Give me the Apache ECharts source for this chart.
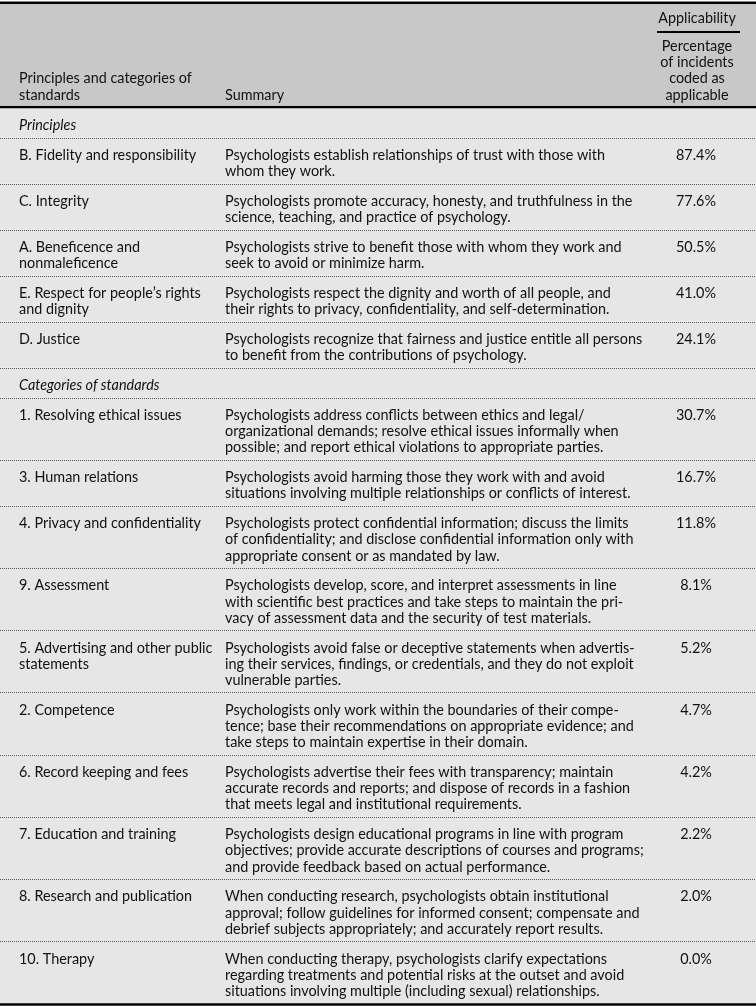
<!DOCTYPE html>
<html>
<head>
<meta charset="utf-8">
<script src="https://cdn.jsdelivr.net/npm/echarts@6/dist/echarts.min.js"></script>
<style>
html,body{margin:0;padding:0;background:#ffffff;}
#chart{width:756px;height:1006px;}
</style>
</head>
<body>
<div id="chart"></div>
<script>
// ---------- DATA ----------
const headerCol1 = 'Principles and categories of\nstandards';
const headerCol2 = 'Summary';
const headerGroup = 'Applicability';
const headerCol3 = 'Percentage\nof incidents\ncoded as\napplicable';

const sectionTitles = ['Principles', 'Categories of standards'];

const principleLabels = [
  'B. Fidelity and responsibility',
  'C. Integrity',
  'A. Beneficence and\nnonmaleficence',
  'E. Respect for people\u2019s rights\nand dignity',
  'D. Justice'
];
const principleSummaries = [
  'Psychologists establish relationships of trust with those with\nwhom they work.',
  'Psychologists promote accuracy, honesty, and truthfulness in the\nscience, teaching, and practice of psychology.',
  'Psychologists strive to benefit those with whom they work and\nseek to avoid or minimize harm.',
  'Psychologists respect the dignity and worth of all people, and\ntheir rights to privacy, confidentiality, and self-determination.',
  'Psychologists recognize that fairness and justice entitle all persons\nto benefit from the contributions of psychology.'
];
const principlePct = [87.4, 77.6, 50.5, 41.0, 24.1];

const standardLabels = [
  '1. Resolving ethical issues',
  '3. Human relations',
  '4. Privacy and confidentiality',
  '9. Assessment',
  '5. Advertising and other public\nstatements',
  '2. Competence',
  '6. Record keeping and fees',
  '7. Education and training',
  '8. Research and publication',
  '10. Therapy'
];
const standardSummaries = [
  'Psychologists address conflicts between ethics and legal/\norganizational demands; resolve ethical issues informally when\npossible; and report ethical violations to appropriate parties.',
  'Psychologists avoid harming those they work with and avoid\nsituations involving multiple relationships or conflicts of interest.',
  'Psychologists protect confidential information; discuss the limits\nof confidentiality; and disclose confidential information only with\nappropriate consent or as mandated by law.',
  'Psychologists develop, score, and interpret assessments in line\nwith scientific best practices and take steps to maintain the pri-\nvacy of assessment data and the security of test materials.',
  'Psychologists avoid false or deceptive statements when advertis-\ning their services, findings, or credentials, and they do not exploit\nvulnerable parties.',
  'Psychologists only work within the boundaries of their compe-\ntence; base their recommendations on appropriate evidence; and\ntake steps to maintain expertise in their domain.',
  'Psychologists advertise their fees with transparency; maintain\naccurate records and reports; and dispose of records in a fashion\nthat meets legal and institutional requirements.',
  'Psychologists design educational programs in line with program\nobjectives; provide accurate descriptions of courses and programs;\nand provide feedback based on actual performance.',
  'When conducting research, psychologists obtain institutional\napproval; follow guidelines for informed consent; compensate and\ndebrief subjects appropriately; and accurately report results.',
  'When conducting therapy, psychologists clarify expectations\nregarding treatments and potential risks at the outset and avoid\nsituations involving multiple (including sexual) relationships.'
];
const standardPct = [30.7, 16.7, 11.8, 8.1, 5.2, 4.7, 4.2, 2.2, 2.0, 0.0];

// ---------- LAYOUT ----------
const W = 756, H = 1006;
const FONT = 'Lato, "Noto Sans", sans-serif';
const FS = 14.4;
const LINE = 16.2;
const PAD = 6.8;
const TEXT_DY = 2.8;
const TOP = 4;
const HEADER_BOTTOM = 108;
const COL1 = 19, COL2 = 225, COL3C = 696;
const TEXT = '#111111';

function nLines(s){ return s.split('\n').length; }

const rows = [];
rows.push({kind:'header'});
const sections = [
  {title: sectionTitles[0], labels: principleLabels, sums: principleSummaries, pct: principlePct},
  {title: sectionTitles[1], labels: standardLabels, sums: standardSummaries, pct: standardPct}
];
sections.forEach(sec => {
  rows.push({kind:'section', text: sec.title});
  sec.labels.forEach((lab, i) => {
    rows.push({kind:'item', label: lab, summary: sec.sums[i], pct: sec.pct[i]});
  });
});

// vertical extents derived from line counts
const data = [];
let y = HEADER_BOTTOM;
rows.forEach((r) => {
  if (r.kind === 'header') { data.push([0, TOP, W, HEADER_BOTTOM]); return; }
  const n = r.kind === 'section' ? 1 : Math.max(nLines(r.label), nLines(r.summary), 1);
  const h = n * LINE + 2 * PAD;
  data.push([0, y, W, y + h]);
  y += h;
});
const lastIndex = rows.length - 1;

function txt(text, x, yy, opts) {
  opts = opts || {};
  return {
    type: 'text',
    z2: 10,
    style: {
      text: text, x: x, y: yy,
      fill: TEXT,
      font: (opts.italic ? 'italic ' : '') + FS + 'px ' + FONT,
      lineHeight: LINE,
      align: opts.align || 'left', textAlign: opts.align || 'left',
      verticalAlign: 'top', textVerticalAlign: 'top'
    }
  };
}

function rule(x0, x1, yy, color, width, dash) {
  const st = {stroke: color, lineWidth: width};
  if (dash) st.lineDash = dash;
  return {type:'line', z2: 20, shape:{x1:x0, y1:yy, x2:x1, y2:yy}, style: st};
}

function renderItem(params, api) {
  const r = rows[params.dataIndex];
  const p0 = api.coord([api.value(0), api.value(1)]);
  const p1 = api.coord([api.value(2), api.value(3)]);
  const x0 = p0[0], y0 = p0[1], x1 = p1[0], y1 = p1[1];
  const c1 = api.coord([COL1, 0])[0], c2 = api.coord([COL2, 0])[0], c3 = api.coord([COL3C, 0])[0];
  const children = [];
  if (r.kind === 'header') {
    children.push({type:'rect', z2: 0, shape:{x:x0, y:y0, width:x1-x0, height:y1-y0}, style:{fill:'#c8c8c8'}});
    children.push(rule(x0, x1, y0 - 1.2, '#000', 2.5));
    children.push(rule(x0, x1, y1 - 0.8, '#000', 2.3));
    children.push(txt(headerGroup, c3 + 1, y0 + 6, {align:'center'}));
    children.push(rule(c3 - 39, c3 + 44, y0 + 28, '#000', 2));
    const n3 = nLines(headerCol3);
    children.push(txt(headerCol3, c3 + 1, y1 - 5 - n3 * LINE, {align:'center'}));
    children.push(txt(headerCol1, c1, y1 - 5 - nLines(headerCol1) * LINE));
    children.push(txt(headerCol2, c2, y1 - 5 - LINE));
  } else {
    children.push({type:'rect', z2: 0, shape:{x:x0, y:y0, width:x1-x0, height:y1-y0}, style:{fill:'#e6e6e6'}});
    const ty = y0 + PAD + TEXT_DY;
    if (r.kind === 'section') {
      children.push(txt(r.text, c1, ty, {italic:true}));
    } else {
      children.push(txt(r.label, c1, ty));
      children.push(txt(r.summary, c2, ty));
      children.push(txt(r.pct.toFixed(1) + '%', c3, ty, {align:'center'}));
    }
    if (params.dataIndex === lastIndex) {
      children.push(rule(x0, x1, y1 + 1, '#000', 2.5));
    } else {
      children.push(rule(x0, x1, Math.round(y1) + 0.5, '#555', 1, [1, 1]));
    }
  }
  return {type:'group', children: children};
}

const chart = echarts.init(document.getElementById('chart'), null, {renderer:'canvas', width:W, height:H});
chart.setOption({
  animation: false,
  backgroundColor: '#ffffff',
  grid: {left:0, right:0, top:0, bottom:0},
  xAxis: {type:'value', min:0, max:W, show:false},
  yAxis: {type:'value', min:0, max:H, inverse:true, show:false},
  series: [{
    type: 'custom',
    renderItem: renderItem,
    clip: false,
    encode: {x:[0,2], y:[1,3]},
    data: data
  }]
});
</script>
</body>
</html>
